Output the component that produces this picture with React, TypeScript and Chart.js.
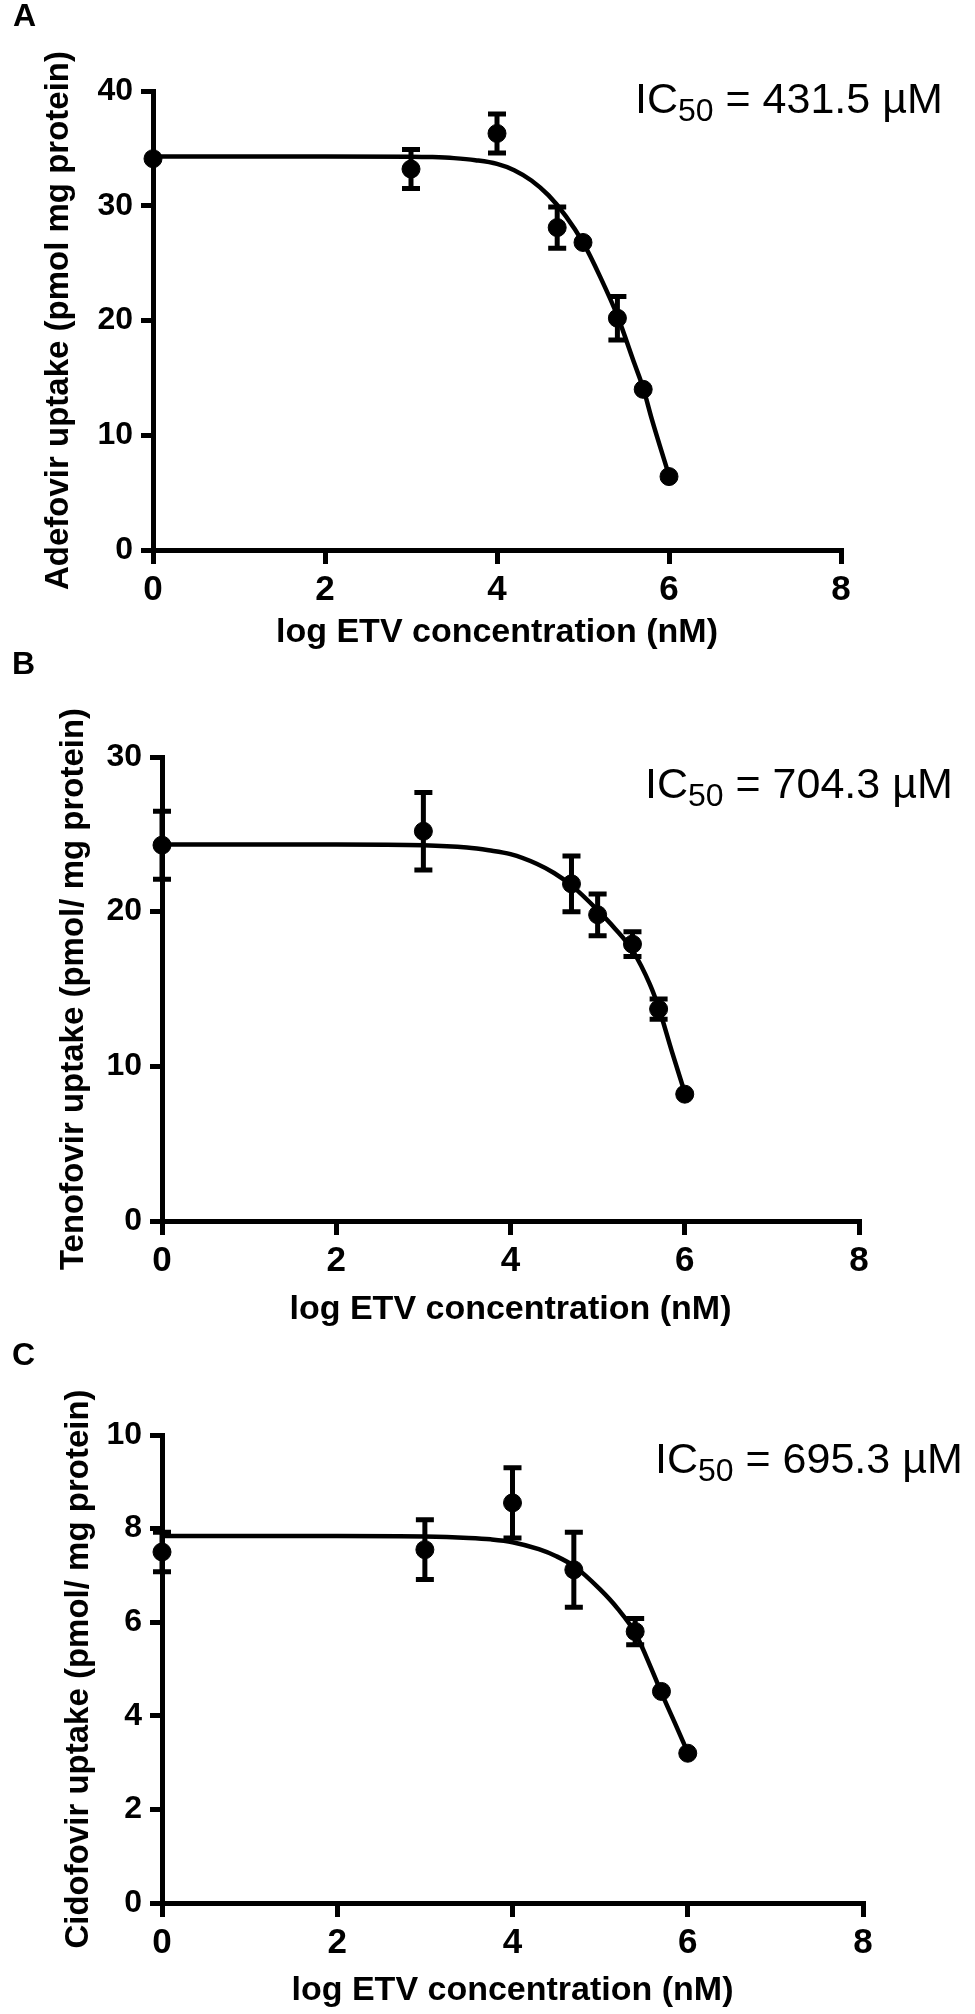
import React, { useEffect, useRef } from 'react';
import { Chart, registerables } from 'chart.js';

Chart.register(...registerables);

const FONT = "'Liberation Sans', Arial, Helvetica, sans-serif";

// ---------- data ----------
const xTicksMax = 8;
const xStep = 2;
const xTitle = 'log ETV concentration (nM)';

// Panel A – Adefovir
const concA = [0, 3, 4, 4.7, 5, 5.4, 5.7, 6];
const meanA = [34.1, 33.2, 36.3, 28.1, 26.8, 20.2, 14.0, 6.4];
const semA = [0, 1.7, 1.7, 1.8, 0, 1.9, 0, 0];
const fitXA = [0, 1, 2, 3, 3.25, 3.5, 3.75, 4, 4.2, 4.4, 4.6, 4.8, 5, 5.2, 5.4, 5.6, 5.7, 5.8, 6];
const fitYA = [34.3, 34.3, 34.3, 34.28, 34.24, 34.15, 33.97, 33.65, 33.1, 32.2, 30.9, 29.1, 26.8, 23.8, 20.4, 16.2, 14.1, 11.4, 6.5];

// Panel B – Tenofovir
const concB = [0, 3, 4.7, 5, 5.4, 5.7, 6];
const meanB = [24.3, 25.2, 21.8, 19.8, 17.9, 13.7, 8.2];
const semB = [2.2, 2.5, 1.8, 1.35, 0.8, 0.65, 0];
const fitXB = [0, 1, 2, 3, 3.5, 3.75, 4, 4.3, 4.5, 4.7, 5, 5.2, 5.4, 5.6, 5.7, 5.85, 6];
const fitYB = [24.35, 24.35, 24.35, 24.3, 24.15, 23.97, 23.72, 23.1, 22.5, 21.7, 20.1, 18.9, 17.5, 15.3, 13.8, 11.0, 8.3];

// Panel C – Cidofovir
const concC = [0, 3, 4, 4.7, 5.4, 5.7, 6];
const meanC = [7.5, 7.55, 8.55, 7.12, 5.8, 4.52, 3.2];
const semC = [0.42, 0.64, 0.75, 0.8, 0.28, 0, 0];
const fitXC = [0, 1, 2, 3, 3.5, 3.75, 4, 4.3, 4.5, 4.7, 5, 5.2, 5.4, 5.6, 5.7, 5.85, 6];
const fitYC = [7.84, 7.84, 7.84, 7.83, 7.8, 7.77, 7.71, 7.56, 7.41, 7.2, 6.7, 6.29, 5.77, 4.94, 4.49, 3.86, 3.22];

const panelLetters = ['A', 'B', 'C'];
const yTitles = [
  'Adefovir uptake (pmol mg protein)',
  'Tenofovir uptake (pmol/ mg protein)',
  'Cidofovir uptake (pmol/ mg protein)',
];
const yMaxes = [40, 30, 10];
const ySteps = [10, 10, 2];
const ic50Values = ['431.5', '704.3', '695.3'];

// ---------- layout (positions/styles) ----------
const panelLayouts = [
  { top: 0, height: 680, left: 153, right: 841, cTop: 91, cBottom: 550, yTitleMid: 58.5, xTitleMid: 633, letterX: 13, letterY: 26, icX: 635, icY: 113 },
  { top: 640, height: 700, left: 162, right: 859, cTop: 117, cBottom: 581, yTitleMid: 73.5, xTitleMid: 670, letterX: 12, letterY: 34, icX: 645, icY: 158 },
  { top: 1330, height: 684, left: 162, right: 863, cTop: 105, cBottom: 573, yTitleMid: 78.5, xTitleMid: 661, letterX: 12, letterY: 35, icX: 655, icY: 143 },
];

const errorBarPlugin = {
  id: 'errorBars',
  afterDatasetsDraw(chart: any, _args: any, opts: any) {
    const { xs, ys, sem } = opts;
    if (!xs) return;
    const sx = chart.scales.x;
    const sy = chart.scales.y;
    const ctx = chart.ctx;
    ctx.save();
    ctx.strokeStyle = '#000';
    ctx.lineWidth = 5;
    ctx.lineCap = 'butt';
    const cap = 9;
    for (let i = 0; i < xs.length; i++) {
      if (!sem[i]) continue;
      const px = sx.getPixelForValue(xs[i]);
      const pt = sy.getPixelForValue(ys[i] + sem[i]);
      const pb = sy.getPixelForValue(ys[i] - sem[i]);
      ctx.beginPath();
      ctx.moveTo(px, pt);
      ctx.lineTo(px, pb);
      ctx.moveTo(px - cap, pt);
      ctx.lineTo(px + cap, pt);
      ctx.moveTo(px - cap, pb);
      ctx.lineTo(px + cap, pb);
      ctx.stroke();
    }
    ctx.restore();
  },
};

const panelTextPlugin = {
  id: 'panelText',
  afterDraw(chart: any, _args: any, o: any) {
    if (!o.letter) return;
    const ctx = chart.ctx;
    ctx.save();
    ctx.fillStyle = '#000';
    ctx.textBaseline = 'alphabetic';
    ctx.textAlign = 'left';
    ctx.font = `bold 32px ${FONT}`;
    ctx.fillText(o.letter, o.letterX, o.letterY);
    let x = o.icX;
    ctx.font = `43px ${FONT}`;
    ctx.fillText('IC', x, o.icY);
    x += ctx.measureText('IC').width;
    ctx.font = `32px ${FONT}`;
    ctx.fillText('50', x, o.icY + 8);
    x += ctx.measureText('50').width;
    ctx.font = `43px ${FONT}`;
    ctx.fillText(` = ${o.value} \u00B5M`, x, o.icY);
    ctx.restore();
  },
};

type PanelProps = {
  idx: number;
  conc: number[];
  mean: number[];
  sem: number[];
  fitX: number[];
  fitY: number[];
};

function Panel({ idx, conc, mean, sem, fitX, fitY }: PanelProps) {
  const ref = useRef<HTMLCanvasElement | null>(null);
  const L = panelLayouts[idx];

  useEffect(() => {
    const canvas = ref.current;
    if (!canvas) return;
    const xTitleFs = 34;
    const yTitleFs = 33;
    const xPadBottom = L.height - L.xTitleMid - (xTitleFs * 1.2) / 2;
    const yPadTop = L.yTitleMid - (yTitleFs * 1.2) / 2;

    const chart = new Chart(canvas, {
      type: 'scatter',
      data: {
        datasets: [
          {
            label: 'mean',
            data: conc.map((v, i) => ({ x: v, y: mean[i] })),
            showLine: false,
            pointRadius: 9,
            pointHoverRadius: 9,
            pointBorderWidth: 1,
            pointBackgroundColor: '#000',
            pointBorderColor: '#000',
            clip: false as any,
            order: 0,
          },
          {
            label: 'fit',
            data: fitX.map((v, i) => ({ x: v, y: fitY[i] })),
            showLine: true,
            pointRadius: 0,
            pointHoverRadius: 0,
            borderColor: '#000',
            borderWidth: 4.5,
            cubicInterpolationMode: 'monotone',
            clip: false as any,
            order: 1,
          },
        ],
      },
      options: {
        responsive: false,
        animation: false,
        events: [],
        layout: {
          padding: { left: 0, top: L.cTop, right: 975 - L.right, bottom: 0 },
        },
        plugins: {
          legend: { display: false },
          tooltip: { enabled: false },
          title: { display: false },
          errorBars: { xs: conc, ys: mean, sem },
          panelText: {
            letter: panelLetters[idx],
            value: ic50Values[idx],
            letterX: L.letterX,
            letterY: L.letterY,
            icX: L.icX,
            icY: L.icY,
          },
        } as any,
        scales: {
          x: {
            type: 'linear',
            min: 0,
            max: xTicksMax,
            ticks: {
              stepSize: xStep,
              color: '#000',
              padding: 5,
              font: { family: FONT, size: 35, weight: 'bold' },
            },
            grid: {
              display: true,
              drawOnChartArea: false,
              drawTicks: true,
              tickLength: 14,
              lineWidth: 5,
              color: '#000',
            },
            border: { display: true, width: 5, color: '#000' },
            title: {
              display: true,
              text: xTitle,
              color: '#000',
              font: { family: FONT, size: xTitleFs, weight: 'bold' },
              padding: { top: 0, bottom: xPadBottom },
            },
            afterFit: (s: any) => {
              s.height = L.height - L.cBottom;
            },
          },
          y: {
            type: 'linear',
            min: 0,
            max: yMaxes[idx],
            ticks: {
              stepSize: ySteps[idx],
              color: '#000',
              padding: 8,
              font: { family: FONT, size: 32, weight: 'bold' },
            },
            grid: {
              display: true,
              drawOnChartArea: false,
              drawTicks: true,
              tickLength: 12,
              lineWidth: 5,
              color: '#000',
            },
            border: { display: true, width: 5, color: '#000' },
            title: {
              display: true,
              text: yTitles[idx],
              color: '#000',
              font: { family: FONT, size: yTitleFs, weight: 'bold' },
              padding: { top: yPadTop, bottom: 0 },
            },
            afterFit: (s: any) => {
              s.width = L.left;
            },
          },
        },
      } as any,
      plugins: [errorBarPlugin, panelTextPlugin],
    });
    return () => chart.destroy();
  }, []);

  return (
    <canvas
      ref={ref}
      width={975}
      height={L.height}
      style={{ position: 'absolute', left: 0, top: L.top, width: 975, height: L.height }}
    />
  );
}

export default function App() {
  return (
    <div style={{ position: 'absolute', left: 0, top: 0, width: 975, height: 2014, background: '#fff' }}>
      <Panel idx={0} conc={concA} mean={meanA} sem={semA} fitX={fitXA} fitY={fitYA} />
      <Panel idx={1} conc={concB} mean={meanB} sem={semB} fitX={fitXB} fitY={fitYB} />
      <Panel idx={2} conc={concC} mean={meanC} sem={semC} fitX={fitXC} fitY={fitYC} />
    </div>
  );
}
